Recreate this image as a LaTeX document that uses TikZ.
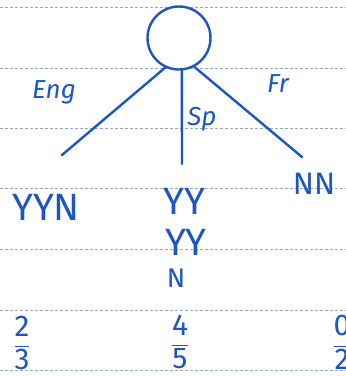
\documentclass[tikz,border=0pt]{standalone}
\usepackage{fontspec}
\setsansfont{Fira Sans}
\usepackage{tikz}
\usetikzlibrary{positioning,calc}
\definecolor{ink}{RGB}{28, 86, 196}
\definecolor{rule}{RGB}{150, 170, 185}

\begin{document}
\begin{tikzpicture}[
    x=1pt, y=-1pt,
    ruleline/.style={rule, densely dashed, line width=0.8pt},
    branch/.style={ink, line width=2.4pt, line cap=round},
    hand/.style={ink, font=\sffamily\fontsize{38}{40}\selectfont, inner sep=0pt},
    small/.style={ink, font=\sffamily\fontsize{27}{29}\selectfont, inner sep=0pt},
    tag/.style={ink, font=\sffamily\itshape\fontsize{26}{28}\selectfont, inner sep=0pt},
    score/.style={ink, font=\sffamily\fontsize{30}{32}\selectfont, inner sep=0pt}
]
    \clip (0,0) rectangle (346,376);
    \fill[white] (0,0) rectangle (346,376);

    % ruled paper
    \foreach \y in {7,68,128,188,249,310,370}
        \draw[ruleline] (0,\y) -- (346,\y);

    % root and branches
    \node (root) [circle, draw=ink, line width=2.4pt, minimum size=63pt, inner sep=0pt] at (179,38) {};
    \coordinate (engend) at (62,155);
    \coordinate (spend) at (182,164);
    \coordinate (frend) at (302,157);
    \draw[branch] (root.-115) -- (engend);
    \draw[branch] (root.-85) -- (spend);
    \draw[branch] (root.-62) -- (frend);

    % branch labels
    \node[tag] (eng) at (54,92) {Eng};
    \node[tag] (sp) at (202,119) {Sp};
    \node[tag] (fr) at (278,84) {Fr};

    % leaves
    \node[hand] (leafeng) at (46,207) {YYN};
    \node[hand] (leafsp) at (184,201) {YY};
    \node[hand, below=15pt of leafsp, xshift=2pt] (spsecond) {YY};
    \node[small, below=13pt of spsecond, xshift=-10pt] (spthird) {N};
    \node[small, font=\sffamily\fontsize{31}{33}\selectfont] (leaffr) at (314,184) {NN};

    % scores
    \node[score] (engscore) at (22,343) {$\displaystyle\frac{\mbox{2}}{\mbox{3}}$};
    \node[score] (spscore) at (180,342) {$\displaystyle\frac{\mbox{4}}{\mbox{5}}$};
    \node[score] (frscore) at (342,342) {$\displaystyle\frac{\mbox{0}}{\mbox{2}}$};
\end{tikzpicture}
\end{document}
